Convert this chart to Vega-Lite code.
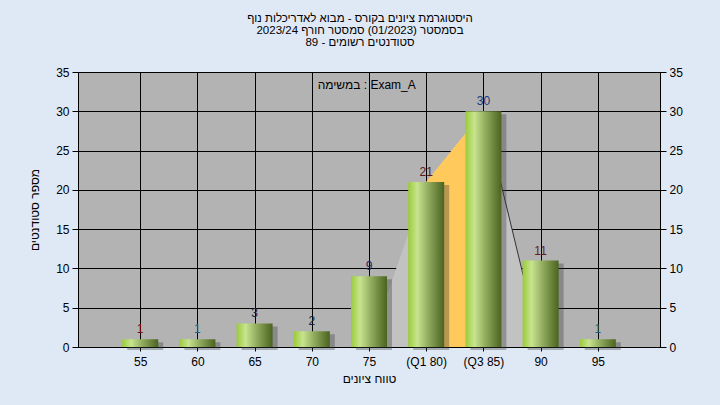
{
  "$schema": "https://vega.github.io/schema/vega-lite/v6.json",
  "width": 582,
  "height": 275,
  "autosize": {"type": "none"},
  "padding": {"left": 78, "top": 72, "right": 60, "bottom": 58},
  "background": "#dfe8f5",
  "view": {"fill": "#b3b3b3", "stroke": "black", "strokeWidth": 1},
  "config": {
    "font": "Liberation Sans",
    "axis": {"labelFont": "Liberation Sans", "labelFontSize": 12, "labelColor": "black", "titleFont": "Liberation Sans", "titleFontSize": 12, "titleFontWeight": "normal", "titleColor": "black", "domainColor": "black", "tickColor": "black", "gridColor": "black", "gridOpacity": 1, "gridWidth": 1}
  },
  "title": {
    "text": ["היסטוגרמת ציונים בקורס - מבוא לאדריכלות נוף", "בסמסטר  (01/2023)  סמסטר חורף  2023/24", "סטודנטים רשומים - 89"],
    "anchor": "middle",
    "dx": -9,
    "offset": 18,
    "fontSize": 11.5,
    "fontWeight": "normal",
    "font": "Liberation Sans",
    "color": "black",
    "lineHeight": 12
  },
  "datasets": {
    "hist": [
      {"score": 55, "count": 1},
      {"score": 60, "count": 1},
      {"score": 65, "count": 3},
      {"score": 70, "count": 2},
      {"score": 75, "count": 9},
      {"score": 80, "count": 21},
      {"score": 85, "count": 30},
      {"score": 90, "count": 11},
      {"score": 95, "count": 1}
    ],
    "shape": [
      {"score": 75, "count": 0},
      {"score": 80, "count": 21},
      {"score": 85, "count": 30},
      {"score": 90, "count": 0}
    ],
    "iqr": [
      {"score": 80, "count": 21},
      {"score": 85, "count": 30}
    ],
    "tail": [
      {"score": 85, "count": 30},
      {"score": 90, "count": 0}
    ],
    "note": [
      {"score": 74.8, "count": 33.3, "text": "במשימה : Exam_A"}
    ]
  },
  "resolve": {"axis": {"y": "independent"}},
  "layer": [
    {
      "data": {"name": "shape"},
      "mark": {"type": "area", "color": "#c2c2c2", "opacity": 1},
      "encoding": {
        "x": {"field": "score", "type": "quantitative", "scale": {"domain": [50, 100], "nice": false, "zero": false},
          "axis": {"values": [55, 60, 65, 70, 75, 80, 85, 90, 95], "grid": true, "tickSize": 4, "labelPadding": 5, "title": "טווח ציונים", "titlePadding": 6,
            "labelExpr": "datum.value == 80 ? '(Q1 80)' : datum.value == 85 ? '(Q3 85)' : datum.label"}},
        "y": {"field": "count", "type": "quantitative", "scale": {"domain": [0, 35], "nice": false},
          "axis": {"orient": "left", "values": [0, 5, 10, 15, 20, 25, 30, 35], "grid": true, "tickSize": 6, "labelPadding": 3, "title": "מספר סטודנטים", "titlePadding": 14}}
      }
    },
    {
      "data": {"name": "iqr"},
      "mark": {"type": "area", "color": "#ffc95c", "opacity": 1},
      "encoding": {
        "x": {"field": "score", "type": "quantitative"},
        "y": {"field": "count", "type": "quantitative", "axis": null}
      }
    },
    {
      "data": {"name": "tail"},
      "mark": {"type": "line", "color": "#333333", "strokeWidth": 1},
      "encoding": {
        "x": {"field": "score", "type": "quantitative"},
        "y": {"field": "count", "type": "quantitative", "axis": null}
      }
    },
    {
      "data": {"name": "hist"},
      "mark": {"type": "bar", "size": 36, "xOffset": 5, "yOffset": 3, "color": "#3a3a3a", "opacity": 0.35},
      "encoding": {
        "x": {"field": "score", "type": "quantitative"},
        "y": {"field": "count", "type": "quantitative",
          "axis": {"orient": "right", "values": [0, 5, 10, 15, 20, 25, 30, 35], "grid": false, "tickSize": 6, "labelPadding": 3, "title": null}}
      }
    },
    {
      "data": {"name": "hist"},
      "mark": {"type": "bar", "size": 36,
        "color": {"gradient": "linear", "x1": 0, "y1": 0, "x2": 1, "y2": 0,
          "stops": [
            {"offset": 0, "color": "#9acb3a"},
            {"offset": 0.25, "color": "#c8e48e"},
            {"offset": 0.6, "color": "#8aa458"},
            {"offset": 1, "color": "#4a631f"}
          ]}},
      "encoding": {
        "x": {"field": "score", "type": "quantitative"},
        "y": {"field": "count", "type": "quantitative", "axis": null}
      }
    },
    {
      "data": {"name": "hist"},
      "mark": {"type": "text", "baseline": "bottom", "dy": -3, "fontSize": 12, "font": "Liberation Sans"},
      "encoding": {
        "x": {"field": "score", "type": "quantitative"},
        "y": {"field": "count", "type": "quantitative", "axis": null},
        "text": {"field": "count", "type": "quantitative"},
        "color": {"field": "score", "type": "nominal", "legend": null,
          "scale": {"domain": [55, 60, 65, 70, 75, 80, 85, 90, 95], "range": ["#7a1010", "#1f5f8f", "#20203a", "#20203a", "#1a2a5a", "#5a1a20", "#1a3a7a", "#6a1a1a", "#1f5f8f"]}}
      }
    },
    {
      "data": {"name": "note"},
      "mark": {"type": "text", "fontSize": 12, "font": "Liberation Sans", "color": "black", "baseline": "middle"},
      "encoding": {
        "x": {"field": "score", "type": "quantitative"},
        "y": {"field": "count", "type": "quantitative", "axis": null},
        "text": {"field": "text"}
      }
    }
  ]
}
